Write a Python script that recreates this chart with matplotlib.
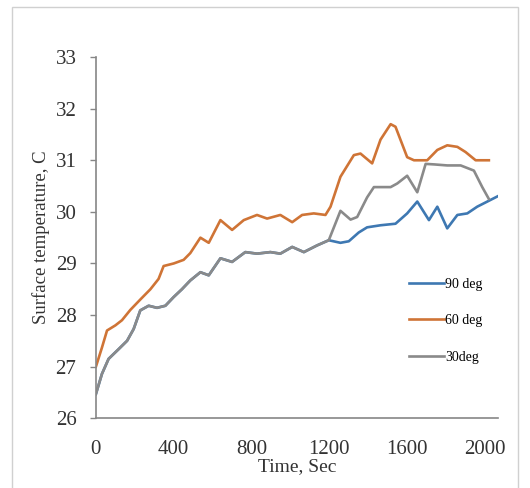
import matplotlib.pyplot as plt
from matplotlib.patches import Rectangle

# ---------------------------
# Data
# ---------------------------
t_60 = [0, 31, 57, 100, 134, 177, 228, 280, 322, 348, 400, 451, 485, 537, 580, 640,
        700, 760, 828, 880, 948, 1009, 1060, 1120, 1180, 1206, 1257, 1326, 1360, 1420,
        1463, 1515, 1540, 1600, 1635, 1703, 1755, 1806, 1858, 1900, 1952, 2020]
temp_60 = [27.0, 27.37, 27.7, 27.8, 27.9, 28.1, 28.3, 28.5, 28.7, 28.95, 29.0, 29.07,
           29.2, 29.5, 29.4, 29.84, 29.65, 29.84, 29.94, 29.87, 29.94, 29.8, 29.94, 29.97,
           29.94, 30.1, 30.68, 31.1, 31.13, 30.94, 31.4, 31.7, 31.65, 31.06, 31.0, 31.0,
           31.2, 31.29, 31.26, 31.16, 31.0, 31.0]

t_30 = [0, 31, 65, 117, 160, 194, 228, 271, 314, 357, 400, 442, 485, 537, 580, 640,
        700, 768, 828, 897, 948, 1009, 1069, 1137, 1197, 1257, 1309, 1343, 1394, 1429,
        1515, 1549, 1600, 1652, 1695, 1738, 1806, 1875, 1943, 1986, 2020]
temp_30 = [26.47, 26.86, 27.15, 27.34, 27.5, 27.73, 28.09, 28.18, 28.14, 28.18, 28.35,
           28.5, 28.67, 28.83, 28.77, 29.1, 29.03, 29.22, 29.19, 29.22, 29.19, 29.32,
           29.22, 29.35, 29.45, 30.02, 29.85, 29.9, 30.28, 30.48, 30.48, 30.55, 30.7,
           30.38, 30.93, 30.92, 30.9, 30.9, 30.8, 30.48, 30.25]

t_90 = [0, 31, 65, 117, 160, 194, 228, 271, 314, 357, 400, 442, 485, 537, 580, 640,
        700, 768, 828, 897, 948, 1009, 1069, 1137, 1197, 1257, 1300, 1351, 1394, 1463,
        1540, 1600, 1652, 1712, 1755, 1806, 1858, 1909, 1960, 2080]
temp_90 = [26.47, 26.86, 27.15, 27.34, 27.5, 27.73, 28.09, 28.18, 28.14, 28.18, 28.35,
           28.5, 28.67, 28.83, 28.77, 29.1, 29.03, 29.22, 29.19, 29.22, 29.19, 29.32,
           29.22, 29.35, 29.45, 29.4, 29.43, 29.6, 29.7, 29.74, 29.77, 29.97, 30.2,
           29.84, 30.1, 29.68, 29.94, 29.97, 30.1, 30.33]

x_ticks = [0, 400, 800, 1200, 1600, 2000]
y_ticks = [26, 27, 28, 29, 30, 31, 32, 33]

# ---------------------------
# Plot
# ---------------------------
plt.rcParams['font.family'] = ['Liberation Serif', 'DejaVu Serif']

fig = plt.figure(figsize=(5.3, 4.88), dpi=100)
fig.patches.append(Rectangle((0.022, -0.01), 0.955, 0.996, transform=fig.transFigure,
                             fill=False, edgecolor='#d0d0d0', linewidth=1.0))
ax = fig.add_axes([0.181, 0.143, 0.759, 0.74])

ax.plot(t_90, temp_90, color='#3E78B2', linewidth=1.9, label='90 deg')
ax.plot(t_60, temp_60, color='#CF7436', linewidth=1.9, label='60 deg')
ax.plot(t_30, temp_30, color='#8A8A8A', linewidth=1.9, label='30deg')

ax.set_xlim(0, 2068)
ax.set_ylim(26, 33)
ax.set_xticks(x_ticks)
ax.set_yticks(y_ticks)
ax.tick_params(axis='x', length=0, pad=16, labelsize=15, colors='#333333')
ax.tick_params(axis='y', length=4, width=1, color='#868686', pad=10,
               labelsize=15, labelcolor='#333333')

for s in ['top', 'right']:
    ax.spines[s].set_visible(False)
for s in ['left', 'bottom']:
    ax.spines[s].set_color('#868686')
    ax.spines[s].set_linewidth(1.2)

ax.set_xlabel("Time, Sec", fontsize=14, color='#333333', labelpad=-1)
ax.set_ylabel("Surface temperature, C", fontsize=13.5, color='#333333', labelpad=4)

ax.legend(loc='upper left', bbox_to_anchor=(0.765, 0.405), frameon=False,
          fontsize=10, handlelength=2.5, handletextpad=0.1, labelspacing=1.7,
          borderaxespad=0)

fig.savefig("out.png", dpi=100)
